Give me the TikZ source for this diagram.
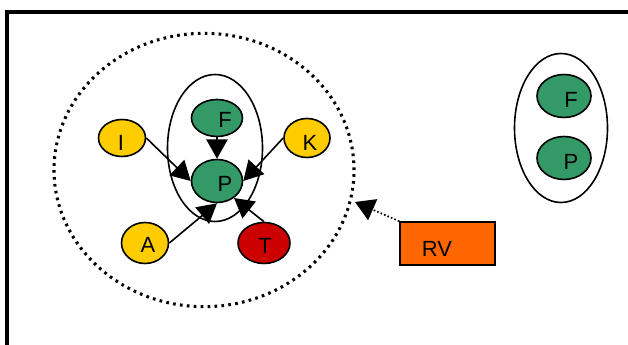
\documentclass[tikz,border=0pt]{standalone}
\usepackage{fontspec}
\setmainfont{Liberation Sans}
\usetikzlibrary{arrows.meta,shapes.geometric}
\definecolor{gr}{HTML}{339966}
\definecolor{ye}{HTML}{FFCC00}
\definecolor{re}{HTML}{CC0000}
\definecolor{og}{HTML}{FF6600}
\tikzset{
  ell/.style={ellipse, draw=black, line width=1.2pt, inner sep=0pt},
  lbl/.style={inner sep=0pt, font=\fontsize{16.5pt}{17pt}\selectfont},
  arr/.style={line width=1.2pt, -{Triangle[length=14.5pt,width=16pt]}},
}
\begin{document}
\begin{tikzpicture}[x=0.75pt,y=-0.75pt]
\useasboundingbox (0,0) rectangle (628,345);
\clip (0,0) rectangle (628,345);
% frame
\draw[line width=2.4pt] (7,360) -- (7,12) -- (640,12);
% dotted group
\node[ellipse, draw=black, line width=2.3pt, dash pattern=on 2pt off 3.2pt, minimum width=225pt, minimum height=205pt, inner sep=0pt] (grp) at (204,170) {};
% inner solid ellipse
\node[ell, fill=none, minimum width=71.25pt, minimum height=110.25pt] (inner) at (215,148) {};
% nodes
\node[ell, fill=gr, minimum width=38.25pt, minimum height=27.75pt] (F) at (217,118) {};
\node[lbl] at (225,120) {F};
\node[ell, fill=gr, minimum width=38.25pt, minimum height=32.25pt] (P) at (217,181) {};
\node[lbl] at (225,184) {P};
\node[ell, fill=ye, minimum width=35.25pt, minimum height=27.75pt] (I) at (122,138) {};
\node[lbl] at (121,143) {I};
\node[ell, fill=ye, minimum width=34.5pt, minimum height=29.25pt] (K) at (307,138) {};
\node[lbl] at (310,143) {K};
\node[ell, fill=ye, minimum width=35.25pt, minimum height=30.75pt] (A) at (145,243) {};
\node[lbl] at (148,245) {A};
\node[ell, fill=re, minimum width=39pt, minimum height=30.75pt] (T) at (264,243) {};
\node[lbl] at (265,246) {T};
% arrows
\draw[arr] (I.east) -- (P.west);
\draw[arr] (K.west) -- (P.east);
\draw[arr] (F.south) -- (P.north);
\draw[arr] (A.east) -- (P.south);
\draw[arr] (T.north) -- (P.-45);
% RV
\node[draw=black, line width=1.2pt, fill=og, minimum width=71.25pt, minimum height=32.25pt, inner sep=0pt] (RV) at (447.5,243.5) {};
\node[lbl] at (437,249) {RV};
\coordinate (rvtip) at (355,202);
\draw[line width=1.3pt, dash pattern=on 1.2pt off 1.6pt, -{Triangle[length=14.5pt,width=17pt]}] (RV.north west) -- (rvtip);
% right group
\node[ell, minimum width=69.75pt, minimum height=111.75pt] (grp2) at (561,128) {};
\node[ell, fill=gr, minimum width=40.5pt, minimum height=32.25pt] (F2) at (564,96) {};
\node[lbl] at (571,100) {F};
\node[ell, fill=gr, minimum width=40.5pt, minimum height=32.25pt] (P2) at (564,158) {};
\node[lbl] at (571,162) {P};
\end{tikzpicture}
\end{document}
